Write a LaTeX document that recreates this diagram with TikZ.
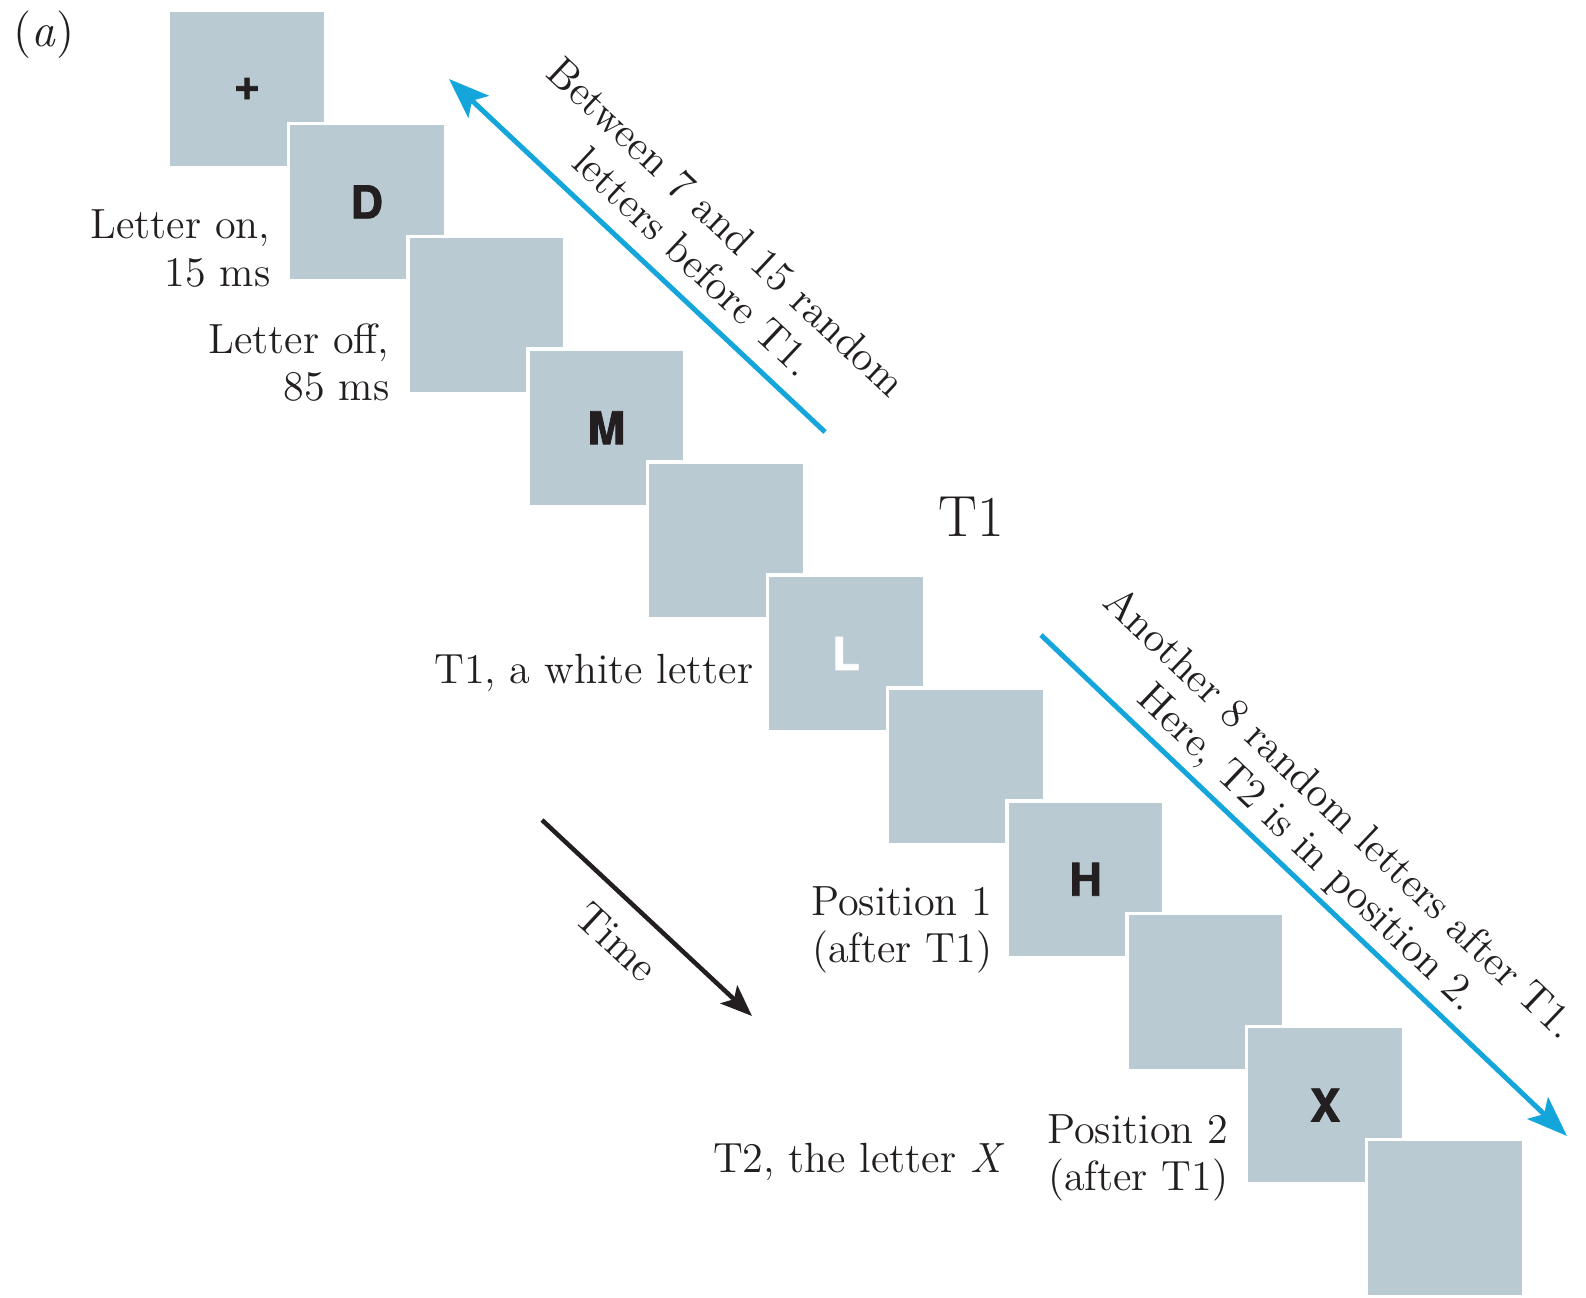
\documentclass[tikz,border=0pt]{standalone}
\usepackage{fontspec}
\newfontfamily\boxfont{TeX Gyre Heros}[FakeBold=1.8]
\usetikzlibrary{arrows.meta}
\definecolor{boxcol}{RGB}{186,202,211}
\definecolor{cyanarrow}{RGB}{20,166,218}
\definecolor{ink}{RGB}{35,31,32}
\tikzset{
  stim/.style={draw=white, line width=0.035cm, fill=boxcol, minimum size=1.57cm,
    inner sep=0pt, font=\boxfont\bfseries\fontsize{12.8}{14}\selectfont, text=ink},
  lbl/.style={font=\fontsize{12}{14}\selectfont, text=ink, inner sep=0pt},
  biglbl/.style={font=\fontsize{16.5}{19}\selectfont, text=ink, inner sep=0pt},
  panellbl/.style={font=\fontsize{13.5}{16}\selectfont, text=ink, inner sep=0pt},
  bluearrow/.style={draw=cyanarrow, line width=0.05cm,
    -{Stealth[length=11.5pt,width=8.5pt,inset=2.5pt]}},
  timearrow/.style={draw=ink, line width=0.045cm,
    -{Stealth[length=9pt,width=7pt,inset=2pt]}},
}
\begin{document}
\begin{tikzpicture}[x=0.01cm, y=-0.01cm]
\useasboundingbox (0,0) rectangle (1586,1297);
\fill[white] (0,0) rectangle (1586,1297);

% stimulus boxes
\node[stim] (b1)  at (247,89)       {+};
\node[stim] (b2)  at (366.8,201.9)  {D};
\node[stim] (b3)  at (486.6,314.8)  {};
\node[stim] (b4)  at (606.4,427.7)  {M};
\node[stim] (b5)  at (726.2,540.6)  {};
\node[stim, text=white] (b6)  at (846,653.5) {L};
\node[stim] (b7)  at (965.8,766.4)  {};
\node[stim] (b8)  at (1085.6,879.3) {H};
\node[stim] (b9)  at (1205.4,992.2) {};
\node[stim] (b10) at (1325.2,1105.1) {X};
\node[stim] (b11) at (1445,1218)    {};

% panel label
\node[panellbl, anchor=base west] (pa) at (13,47) {(\textit{a})};

% left labels
\node[lbl, anchor=base east] (on1)  at (271,238) {Letter on,};
\node[lbl, anchor=base east] (on2)  at (271,286) {15 ms};
\node[lbl, anchor=base east] (off1) at (390,353) {Letter off,};
\node[lbl, anchor=base east] (off2) at (390,400) {85 ms};
\node[lbl, anchor=base east] (t1l)  at (754,683) {T1, a white letter};
\node[biglbl, anchor=base] (t1big)  at (971,536) {T1};
\node[lbl, anchor=base east] (p1a)  at (993,915) {Position 1};
\node[lbl, anchor=base east] (p1b)  at (993,962) {(after T1)};
\node[lbl, anchor=base east] (t2l)  at (1005,1172) {T2, the letter \textit{X}};
\node[lbl, anchor=base east] (p2a)  at (1229,1143) {Position 2};
\node[lbl, anchor=base east] (p2b)  at (1229,1190) {(after T1)};

% blue arrows
\coordinate (a1s) at (825,432);
\coordinate (a1e) at (449,79);
\draw[bluearrow] (a1s) -- (a1e);
\node[lbl, anchor=base, rotate=-43.2] (bt1) at (717,237) {Between 7 and 15 random};
\node[lbl, anchor=base, rotate=-43.2] (bt2) at (684,272) {letters before T1.};

\coordinate (a2s) at (1041,635);
\coordinate (a2e) at (1567,1136);
\draw[bluearrow] (a2s) -- (a2e);
\node[lbl, anchor=base, rotate=-43.6] (at1) at (1331,823) {Another 8 random letters after T1.};
\node[lbl, anchor=base, rotate=-43.6] (at2) at (1299,857) {Here, T2 is in position 2.};

% time arrow
\coordinate (ts) at (542,820);
\coordinate (te) at (752,1016);
\draw[timearrow] (ts) -- (te);
\node[lbl, rotate=-43] (time) at (617,942) {Time};
\end{tikzpicture}
\end{document}
